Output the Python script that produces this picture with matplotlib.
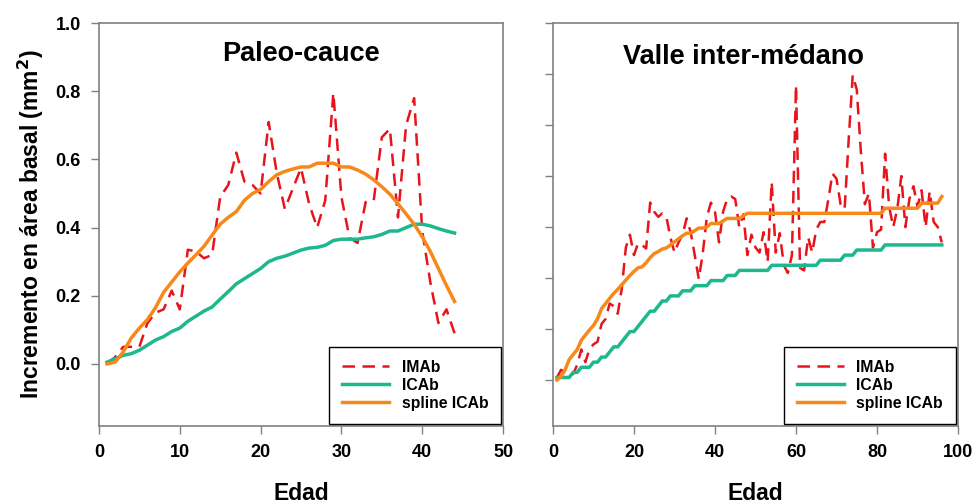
import matplotlib
matplotlib.use("Agg")
import matplotlib.pyplot as plt

plt.rcParams['font.family'] = ['Liberation Sans', 'DejaVu Sans']
plt.rcParams['font.weight'] = 'bold'

########### DATA ###########
# Paleo-cauce (edad 1..44)
edad_pc = list(range(1, 45))
imab_pc = [0.00, 0.02, 0.05, 0.05, 0.05, 0.12, 0.15, 0.16, 0.215, 0.16,
           0.335, 0.33, 0.31, 0.32, 0.49, 0.525, 0.62, 0.535, 0.525, 0.50,
           0.71, 0.56, 0.455, 0.515, 0.575, 0.47, 0.40, 0.48, 0.795, 0.49,
           0.37, 0.355, 0.475, 0.48, 0.665, 0.69, 0.43, 0.70, 0.78, 0.39,
           0.24, 0.12, 0.16, 0.09]
icab_pc = [0.005, 0.015, 0.025, 0.03, 0.04, 0.055, 0.07, 0.08, 0.095, 0.105,
           0.125, 0.14, 0.155, 0.167, 0.19, 0.212, 0.235, 0.25, 0.265, 0.28,
           0.30, 0.31, 0.316, 0.325, 0.334, 0.34, 0.342, 0.348, 0.362, 0.366,
           0.366, 0.366, 0.37, 0.373, 0.38, 0.39, 0.39, 0.40, 0.41, 0.41,
           0.405, 0.397, 0.39, 0.384]
spline_pc = [0.00, 0.005, 0.035, 0.076, 0.105, 0.13, 0.165, 0.21, 0.24, 0.27,
             0.296, 0.32, 0.345, 0.378, 0.41, 0.43, 0.447, 0.48, 0.50, 0.512,
             0.535, 0.555, 0.565, 0.572, 0.578, 0.578, 0.589, 0.589, 0.589, 0.578,
             0.578, 0.569, 0.557, 0.54, 0.52, 0.498, 0.47, 0.44, 0.41, 0.373,
             0.33, 0.28, 0.23, 0.183]

# Valle inter-medano (edad 1..96)
edad_vm = list(range(1, 97))
imab_vm = [0.005, 0.02, 0.015, 0.008, 0.012, 0.03, 0.06, 0.035, 0.06, 0.07,
           0.075, 0.11, 0.12, 0.15, 0.145, 0.13, 0.18, 0.26, 0.285, 0.245,
           0.268, 0.265, 0.258, 0.348, 0.33, 0.32, 0.327, 0.32, 0.28, 0.25,
           0.27, 0.285, 0.317, 0.29, 0.245, 0.198, 0.25, 0.32, 0.348, 0.33,
           0.27, 0.33, 0.355, 0.36, 0.355, 0.30, 0.325, 0.245, 0.285, 0.26,
           0.25, 0.29, 0.232, 0.388, 0.25, 0.288, 0.225, 0.21, 0.245, 0.578,
           0.22, 0.215, 0.28, 0.25, 0.295, 0.31, 0.31, 0.355, 0.405, 0.395,
           0.345, 0.335, 0.47, 0.598, 0.57, 0.45, 0.345, 0.366, 0.26, 0.29,
           0.295, 0.444, 0.34, 0.30, 0.335, 0.40, 0.30, 0.355, 0.38, 0.34,
           0.372, 0.30, 0.37, 0.31, 0.30, 0.27]
icab_vm = ([0.005] * 4 + [0.015] * 2 + [0.025] * 3 + [0.035] * 2 + [0.045] * 2
           + [0.055, 0.065, 0.065, 0.075, 0.085, 0.095, 0.095, 0.105, 0.115,
              0.125, 0.135, 0.135, 0.145, 0.155, 0.155]
           + [0.165] * 3 + [0.175] * 3 + [0.185] * 4 + [0.195] * 4
           + [0.205] * 3 + [0.215] * 8 + [0.225] * 12 + [0.235] * 6
           + [0.245] * 3 + [0.255] * 7 + [0.265] * 15)
spline_vm = ([0.0, 0.007, 0.02, 0.04, 0.05, 0.06, 0.078, 0.088, 0.098, 0.107,
              0.12, 0.14, 0.15, 0.16, 0.17, 0.178, 0.187, 0.196, 0.205, 0.213,
              0.22, 0.222, 0.23, 0.24, 0.248, 0.252, 0.257, 0.259, 0.265, 0.271,
              0.277, 0.283, 0.288, 0.288, 0.293, 0.298, 0.298, 0.30, 0.307, 0.307,
              0.307, 0.312, 0.317, 0.317, 0.317, 0.317, 0.322]
             + [0.327] * 34 + [0.337] * 9 + [0.347] * 5 + [0.36])

RED = '#e8141c'
GREEN = '#1db88e'
ORANGE = '#f7891b'
SPINE = '#808080'
#############################

fig = plt.figure(figsize=(9.73, 5.04), dpi=100)
ax1 = fig.add_axes([0.1017, 0.155, 0.4153, 0.799])
ax2 = fig.add_axes([0.5683, 0.155, 0.4163, 0.799])


def draw(ax, x, imab, icab, spline):
    ax.plot(x, imab, color=RED, lw=1.8, dashes=(5, 3), label='IMAb')
    ax.plot(x, icab, color=GREEN, lw=2.5, label='ICAb')
    ax.plot(x, spline, color=ORANGE, lw=2.5, label='spline ICAb')
    for s in ax.spines.values():
        s.set_color(SPINE)
        s.set_linewidth(1.2)
    ax.tick_params(direction='out', length=6, width=1, color=SPINE,
                   labelsize=13, pad=7)
    leg = ax.legend(loc='lower right', fontsize=11.3, frameon=True, fancybox=False,
                    framealpha=1, edgecolor='black', handlelength=3.0,
                    borderpad=0.8, labelspacing=0.2, borderaxespad=0.15)
    leg.get_frame().set_linewidth(1.0)
    ax.set_xlabel('Edad', fontsize=16.5, fontweight='bold', labelpad=15)


draw(ax1, edad_pc, imab_pc, icab_pc, spline_pc)
ax1.set_xlim(0, 50)
ax1.set_ylim(-0.182, 1.0)
ax1.set_xticks([0, 10, 20, 30, 40, 50])
ax1.set_yticks([0.0, 0.2, 0.4, 0.6, 0.8, 1.0])
ax1.set_yticklabels(['0.0', '0.2', '0.4', '0.6', '0.8', '1.0'])
ax1.set_ylabel('Incremento en área basal (mm$^\\mathbf{2}$)', fontsize=16.5,
               fontweight='bold', labelpad=7)
ax1.text(0.5, 0.923, 'Paleo-cauce', transform=ax1.transAxes, ha='center',
         va='center', fontsize=19.5, fontweight='bold')

draw(ax2, edad_vm, imab_vm, icab_vm, spline_vm)
ax2.set_xlim(0, 100)
ax2.set_ylim(-0.09, 0.70)
ax2.set_xticks([0, 20, 40, 60, 80, 100])
ax2.set_yticks([0.0, 0.1, 0.2, 0.3, 0.4, 0.5, 0.6, 0.7])
ax2.set_yticklabels([])
ax2.text(0.47, 0.915, 'Valle inter-médano', transform=ax2.transAxes,
         ha='center', va='center', fontsize=19.5, fontweight='bold')

fig.savefig('out.png', dpi=100)
